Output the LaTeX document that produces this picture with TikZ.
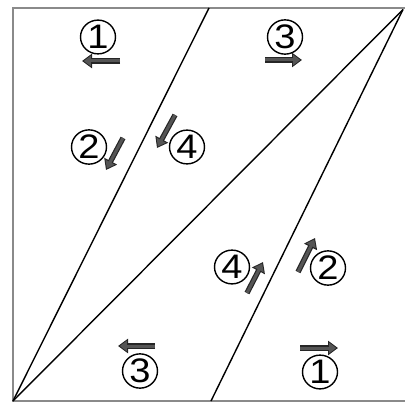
\documentclass[tikz,border=0pt]{standalone}
\usepackage{fontspec}
\setmainfont{Liberation Sans}
\usetikzlibrary{arrows.meta}
\definecolor{framegray}{HTML}{8A8A8A}
\definecolor{arrgray}{HTML}{555555}
\tikzset{
  frame/.style={draw=framegray, line width=2pt},
  cutline/.style={draw=black, line width=1.4pt},
  numlabel/.style={draw=black, line width=1.4pt, ellipse, minimum width=35pt, minimum height=30pt, inner sep=0pt, font=\fontsize{34}{34}\selectfont},
  arrouter/.style={draw=black!85, line width=5.4pt, -{Triangle[length=10pt,width=14pt]}},
  arrinner/.style={draw=arrgray, line width=3pt, -{Triangle[length=7pt,width=10pt]}, shorten >=1.8pt}
}
\usetikzlibrary{shapes.geometric}
\newcommand{\num}[1]{\raisebox{0.5pt}{\scalebox{1.12}[1]{#1}}}
\begin{document}
\begin{tikzpicture}[x=1pt,y=-1pt]
\useasboundingbox (0,0) rectangle (404,406);
% corners
\coordinate (BL) at (13,401);
\coordinate (TL) at (13,8);
\coordinate (TR) at (403,9.5);
\coordinate (TM) at (209,8);
\coordinate (BM) at (211,401);
\draw[frame] (406,8) -- (TL) -- (BL) -- (406,401);
\draw[cutline] (BL) -- (TM);
\draw[cutline] (BL) -- (TR);
\draw[cutline] (BM) -- (TR);
% labels
\node[numlabel] (n1t) at (98,37) {\num{1}};
\node[numlabel] (n3t) at (285,37) {\num{3}};
\node[numlabel] (n2l) at (89,147) {\num{2}};
\node[numlabel] (n4l) at (187,147) {\num{4}};
\node[numlabel] (n4r) at (232,267) {\num{4}};
\node[numlabel] (n2r) at (328,268) {\num{2}};
\node[numlabel] (n3b) at (140,371) {\num{3}};
\node[numlabel] (n1b) at (320,372) {\num{1}};
% arrow ends
\coordinate (a1s) at (120,61); \coordinate (a1e) at (82,61);
\coordinate (a3s) at (265,60); \coordinate (a3e) at (302,60);
\coordinate (a2s) at (123,138); \coordinate (a2e) at (106,170);
\coordinate (a4s) at (175,115); \coordinate (a4e) at (157,148);
\coordinate (b4s) at (247,293); \coordinate (b4e) at (263,262);
\coordinate (b2s) at (298,272); \coordinate (b2e) at (315,238);
\coordinate (b3s) at (155,346); \coordinate (b3e) at (118,346);
\coordinate (b1s) at (300,348); \coordinate (b1e) at (338,348);
\foreach \s/\e in {a1s/a1e,a3s/a3e,a2s/a2e,a4s/a4e,b4s/b4e,b2s/b2e,b3s/b3e,b1s/b1e}{
  \draw[arrouter] (\s) -- (\e);
  \draw[arrinner] (\s) -- (\e);
}
\end{tikzpicture}
\end{document}
